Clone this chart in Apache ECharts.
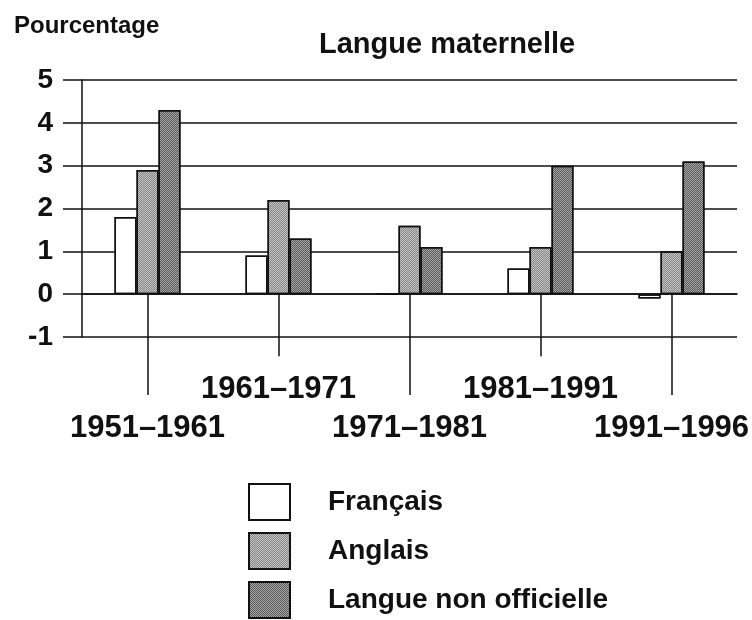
<!DOCTYPE html>
<html>
<head>
<meta charset="utf-8">
<script src="https://cdn.jsdelivr.net/npm/echarts@6/dist/echarts.min.js"></script>
<style>
  html, body { margin: 0; padding: 0; background: #fff; }
  #main { width: 752px; height: 620px; }
</style>
</head>
<body>
<div id="main"></div>
<script>
// periodes
var periodes = ["1951–1961", "1961–1971", "1971–1981", "1981–1991", "1991–1996"];
// variation en pourcentage
var francais = [1.8, 0.9, 0, 0.6, -0.1];
var anglais = [2.9, 2.2, 1.6, 1.1, 1.0];
var nonOfficielle = [4.3, 1.3, 1.1, 3.0, 3.1];
var yMin = -1, yMax = 5, yStep = 1;

var police = "'Liberation Sans', Arial, sans-serif";
var noir = "#111";

var myChart = echarts.init(document.getElementById("main"));

// etiquettes en quinconce : paires en bas, impaires plus haut
function pair(i) { return i % 2 === 0; }
function impair(i) { return i % 2 === 1; }

// trame pointillee facon impression
function trame(couleur) {
  return {
    symbol: "rect",
    symbolSize: 1,
    color: couleur,
    dashArrayX: [[1, 1], [0, 1, 1, 0]],
    dashArrayY: [1, 0],
    rotation: 0
  };
}

var barStyle = { borderColor: noir, borderWidth: 1.5 };
var labelStyle = { fontFamily: police, fontSize: 31, fontWeight: "bold", color: noir, lineHeight: 31 };

myChart.setOption({
  animation: false,
  aria: { enabled: true, decal: { show: true } },
  title: [
    {
      text: "Langue maternelle",
      left: 314,
      top: 25,
      textStyle: { fontFamily: police, fontSize: 29, fontWeight: "bold", color: noir }
    },
    {
      text: "Pourcentage",
      left: 9,
      top: 9,
      textStyle: { fontFamily: police, fontSize: 24, fontWeight: "bold", color: noir }
    }
  ],
  legend: {
    orient: "vertical",
    left: 248,
    top: 483,
    padding: 0,
    itemWidth: 41,
    itemHeight: 36,
    itemGap: 11,
    icon: "rect",
    textStyle: { fontFamily: police, fontSize: 28, fontWeight: "bold", color: noir, padding: [0, 0, 0, 33] },
    data: ["Français", "Anglais", "Langue non officielle"]
  },
  grid: {
    left: 82,
    right: 14,
    top: 80,
    bottom: 283,
    containLabel: false
  },
  xAxis: [
    {
      // axe sur le zero : petits traits sous chaque groupe
      type: "category",
      position: "bottom",
      data: periodes,
      axisLine: { show: true, onZero: true, lineStyle: { color: noir, width: 1.5 } },
      axisTick: { show: true, alignWithLabel: true, interval: 0, length: 62, lineStyle: { color: noir, width: 1.5 } },
      axisLabel: Object.assign({ interval: impair, margin: 37 }, labelStyle)
    },
    {
      // axe du bas : prolonge les traits des etiquettes basses
      type: "category",
      position: "bottom",
      data: periodes,
      axisLine: { show: false, onZero: false },
      axisTick: { show: true, alignWithLabel: true, interval: pair, length: 58, lineStyle: { color: noir, width: 1.5 } },
      axisLabel: Object.assign({ interval: pair, margin: 76 }, labelStyle)
    }
  ],
  yAxis: {
    type: "value",
    min: yMin,
    max: yMax,
    interval: yStep,
    axisLine: { show: true, lineStyle: { color: noir, width: 1.5 } },
    axisTick: { show: true, length: 19, lineStyle: { color: noir, width: 1.5 } },
    axisLabel: { margin: 29, fontFamily: police, fontSize: 28, fontWeight: "bold", color: noir },
    splitLine: { show: true, lineStyle: { color: noir, width: 1.5 } }
  },
  series: [
    {
      name: "Français",
      type: "bar",
      xAxisIndex: 0,
      barWidth: 22,
      barGap: "0%",
      itemStyle: Object.assign({ color: "#ffffff", decal: { symbol: "none" } }, barStyle),
      data: francais
    },
    {
      name: "Anglais",
      type: "bar",
      xAxisIndex: 0,
      barWidth: 22,
      barGap: "0%",
      itemStyle: Object.assign({ color: "#c4c4c4", decal: trame("rgba(60,60,60,0.45)") }, barStyle),
      data: anglais
    },
    {
      name: "Langue non officielle",
      type: "bar",
      xAxisIndex: 0,
      barWidth: 22,
      barGap: "0%",
      itemStyle: Object.assign({ color: "#a6a6a6", decal: trame("rgba(40,40,40,0.6)") }, barStyle),
      data: nonOfficielle
    }
  ]
});
</script>
</body>
</html>
